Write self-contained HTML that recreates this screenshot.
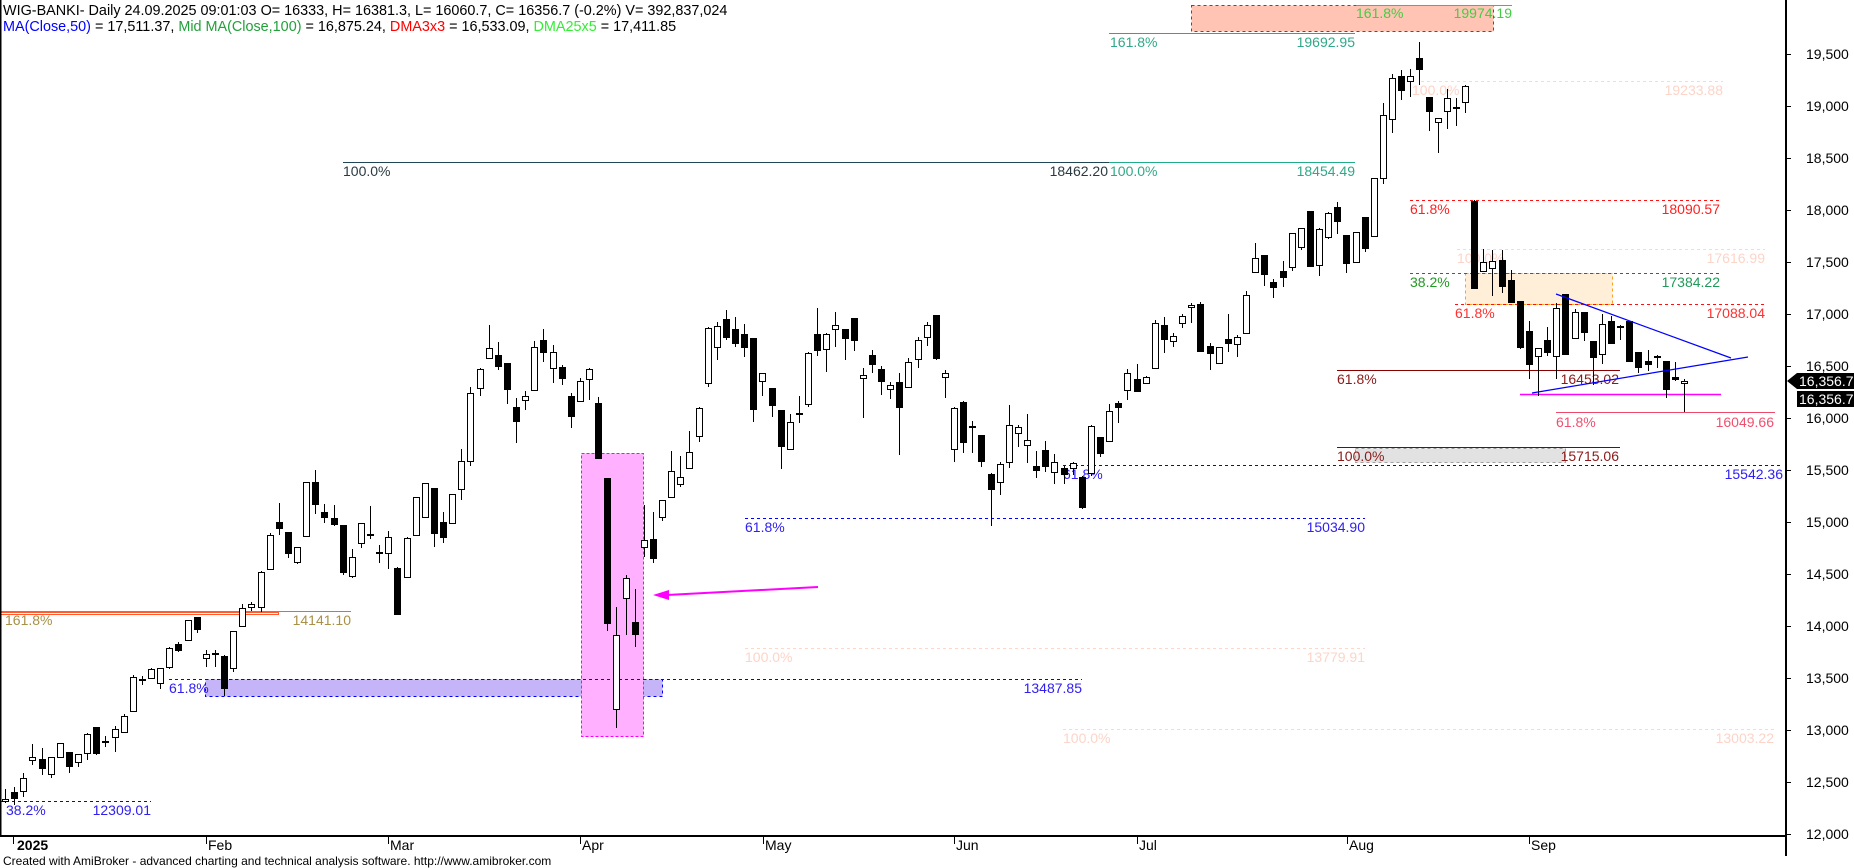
<!DOCTYPE html>
<html><head><meta charset="utf-8">
<style>html,body{margin:0;padding:0;background:#fff;width:1854px;height:868px;overflow:hidden}svg{display:block}</style>
</head><body>
<svg xmlns="http://www.w3.org/2000/svg" width="1854" height="868" viewBox="0 0 1854 868" font-family="'Liberation Sans', Arial, sans-serif" font-size="14">
<rect width="1854" height="868" fill="#fff"/>

<!-- fills -->
<rect x="205.5" y="679.5" width="457" height="17" fill="#c6b4f8" stroke="#0000ff" stroke-dasharray="3,3"/>
<rect x="581.5" y="453.5" width="62" height="283" fill="#ffb0ff" stroke="#ff00ff" stroke-dasharray="3,2"/>
<rect x="1191.5" y="5.5" width="302" height="26" fill="#ffc4b4" stroke="#ee1111" stroke-dasharray="3,3"/>
<rect x="1465.5" y="273.5" width="147" height="31" fill="#ffefd9" stroke="#ffa020" stroke-dasharray="3,3"/>
<rect x="1355.5" y="448.5" width="210" height="14" fill="#e2e2e2" stroke="#a0a0a0" stroke-dasharray="3,3"/>

<!-- fib lines -->
<g fill="none">
<path d="M0 611.5H351" stroke="#a08c40"/>
<rect x="0.5" y="612.5" width="278" height="2" stroke="#ff5a30"/>
<path d="M0 801.5H151M169 679.5H1082M745 518.5H1365M1063 465.5H1783" stroke="#0000ff" stroke-dasharray="3,3"/>
<path d="M745 648.5H1365M1063 729.5H1774M1421 81.5H1723M1457 249.5H1765" stroke="#ffd6c8" stroke-dasharray="3,3"/>
<path d="M343 162.5H1109" stroke="#1e4654"/>
<path d="M1109 162.5H1355M1109 33.5H1355" stroke="#1fae88"/>
<path d="M1356 5.5H1512" stroke="#33cc33"/>
<path d="M1410 200.5H1720M1455 304.5H1765" stroke="#ff1111" stroke-dasharray="3,3"/>
<path d="M1410 273.5H1720" stroke="#118811" stroke-dasharray="3,3"/>
<path d="M1337 370.5H1620M1337 447.5H1620" stroke="#880000"/>
<path d="M1520 394.5H1721" stroke="#ff00ff" stroke-width="1.5"/>
<path d="M1556 412.5H1775" stroke="#f04a6a"/>
</g>

<!-- fib texts -->
<g>
<text x="5" y="625" fill="#a89048">161.8%</text>
<text x="351" y="625" fill="#a89048" text-anchor="end">14141.10</text>
<text x="6" y="815" fill="#3020f0">38.2%</text>
<text x="151" y="815" fill="#3020f0" text-anchor="end">12309.01</text>
<text x="169" y="693" fill="#3020f0">61.8%</text>
<text x="1082" y="693" fill="#3020f0" text-anchor="end">13487.85</text>
<text x="745" y="532" fill="#3020f0">61.8%</text>
<text x="1365" y="532" fill="#3020f0" text-anchor="end">15034.90</text>
<text x="745" y="662" fill="#fdd4c8">100.0%</text>
<text x="1365" y="662" fill="#fdd4c8" text-anchor="end">13779.91</text>
<text x="1063" y="743" fill="#fdd4c8">100.0%</text>
<text x="1774" y="743" fill="#fdd4c8" text-anchor="end">13003.22</text>
<text x="343" y="176" fill="#2a3a40">100.0%</text>
<text x="1108" y="176" fill="#2a3a40" text-anchor="end">18462.20</text>
<text x="1110" y="176" fill="#30a888">100.0%</text>
<text x="1355" y="176" fill="#30a888" text-anchor="end">18454.49</text>
<text x="1110" y="47" fill="#30a888">161.8%</text>
<text x="1355" y="47" fill="#30a888" text-anchor="end">19692.95</text>
<text x="1356" y="18" fill="#44cc44">161.8%</text>
<text x="1512" y="18" fill="#44cc44" text-anchor="end">19974.19</text>
<text x="1412" y="95" fill="#fdd4c8">100.0%</text>
<text x="1723" y="95" fill="#fdd4c8" text-anchor="end">19233.88</text>
<text x="1410" y="214" fill="#ff2020">61.8%</text>
<text x="1720" y="214" fill="#ff2020" text-anchor="end">18090.57</text>
<text x="1457" y="263" fill="#fdd4c8">100.0%</text>
<text x="1765" y="263" fill="#fdd4c8" text-anchor="end">17616.99</text>
<text x="1410" y="287" fill="#229922">38.2%</text>
<text x="1720" y="287" fill="#22995a" text-anchor="end">17384.22</text>
<text x="1455" y="318" fill="#ff3030">61.8%</text>
<text x="1765" y="318" fill="#ff3030" text-anchor="end">17088.04</text>
<text x="1337" y="384" fill="#8a1a1a">61.8%</text>
<text x="1619" y="384" fill="#8a1a1a" text-anchor="end">16453.02</text>
<text x="1556" y="427" fill="#f05070">61.8%</text>
<text x="1774" y="427" fill="#f05070" text-anchor="end">16049.66</text>
<text x="1337" y="461" fill="#8a1a1a">100.0%</text>
<text x="1619" y="461" fill="#8a1a1a" text-anchor="end">15715.06</text>
<text x="1063" y="479" fill="#3020f0">61.8%</text>
<text x="1783" y="479" fill="#3020f0" text-anchor="end">15542.36</text>
</g>

<!-- magenta arrow -->
<path d="M818 587L667 595" stroke="#ff00ff" stroke-width="2" fill="none"/>
<polygon points="653,595 669,590 669,600" fill="#ff00ff"/>

<!-- candles: wicks -->
<path stroke="#000" stroke-width="1" fill="none" d="M5.5 789V803M14.5 787V805M23.5 773V797M32.5 744V765M42.5 748V775M51.5 757V778M60.5 743V757M69.5 752V773M78.5 754V767M87.5 733V760M96.5 727V755M105.5 736V747M115.5 726V752M124.5 714V732M133.5 675V711M142.5 676V685M151.5 668V678M160.5 668V689M169.5 647V669M178.5 642V652M188.5 620V640M197.5 617V633M206.5 650V667M215.5 650V667M224.5 655V696M233.5 631V672M242.5 604V626M251.5 602V611M261.5 571V612M270.5 533V569M279.5 503V535M288.5 532V558M297.5 547V564M306.5 482V537M315.5 470V514M324.5 504V523M334.5 505V526M343.5 525V575M352.5 549V578M361.5 523V548M370.5 506V539M379.5 545V563M388.5 531V569M397.5 567V614M407.5 537V577M416.5 497V535M425.5 483V517M434.5 488V547M443.5 512V543M452.5 494V523M461.5 449V500M470.5 387V466M480.5 368V396M489.5 325V358M498.5 342V370M507.5 363V404M516.5 398V443M525.5 391V410M534.5 341V390M543.5 329V362M553.5 345V383M562.5 365V385M571.5 393V428M580.5 378V401M589.5 368V400M598.5 397V458M607.5 478V631M616.5 607V728M626.5 575V635M635.5 589V647M644.5 505V557M653.5 512V563M662.5 500V521M671.5 451V497M680.5 456V487M689.5 431V468M699.5 407V442M708.5 327V387M717.5 322V360M726.5 310V340M735.5 317V347M744.5 324V357M753.5 338V422M762.5 373V396M772.5 388V417M781.5 410V469M790.5 414V449M799.5 396V423M808.5 352V407M817.5 308V356M826.5 333V372M835.5 312V347M845.5 329V360M854.5 318V351M863.5 368V418M872.5 350V373M881.5 366V395M890.5 382V399M899.5 373V455M908.5 358V387M918.5 337V368M927.5 322V346M936.5 315V360M945.5 370V398M954.5 407V462M963.5 401V453M972.5 421V453M981.5 435V467M991.5 473V526M1000.5 462V495M1009.5 405V468M1018.5 425V447M1027.5 414V463M1036.5 451V478M1045.5 441V472M1054.5 454V484M1064.5 466V484M1073.5 462V475M1082.5 476V509M1091.5 425V476M1100.5 437V457M1109.5 404V441M1118.5 401V423M1127.5 369V400M1137.5 364V391M1146.5 376V384M1155.5 320V368M1164.5 317V353M1173.5 333V347M1182.5 314V328M1191.5 303V323M1200.5 302V352M1210.5 343V370M1219.5 347V363M1228.5 314V352M1237.5 335V357M1246.5 291V334M1255.5 243V272M1264.5 255V286M1273.5 279V298M1283.5 261V287M1292.5 233V271M1301.5 228V250M1310.5 211V267M1319.5 228V276M1328.5 212V239M1337.5 202V234M1346.5 235V273M1356.5 232V262M1365.5 217V252M1374.5 178V236M1383.5 103V184M1392.5 74V133M1401.5 70V100M1410.5 69V97M1419.5 42V85M1429.5 97V131M1438.5 118V153M1447.5 89V129M1456.5 98V126M1465.5 85V113M1474.5 200V288M1483.5 249V272M1492.5 250V296M1502.5 250V293M1511.5 270V302M1520.5 301V349M1529.5 321V379M1538.5 348V396M1547.5 327V356M1556.5 303V379M1565.5 294V354M1575.5 309V338M1584.5 312V341M1593.5 341V385M1602.5 314V364M1611.5 316V344M1620.5 325V340M1629.5 321V361M1638.5 352V373M1648.5 350V371M1657.5 355V368M1666.5 361V398M1675.5 362V381M1684.5 379V412"/>

<!-- white bodies -->
<g fill="#fff" stroke="#000" stroke-width="1">
<rect x="2.5" y="799.5" width="6" height="2"/><rect x="20.5" y="778.5" width="6" height="13"/><rect x="29.5" y="757.5" width="6" height="3"/><rect x="48.5" y="757.5" width="6" height="17"/><rect x="57.5" y="743.5" width="6" height="14"/><rect x="75.5" y="754.5" width="6" height="8"/><rect x="84.5" y="734.5" width="6" height="19"/><rect x="112.5" y="729.5" width="6" height="8"/><rect x="121.5" y="716.5" width="6" height="16"/><rect x="130.5" y="677.5" width="6" height="34"/>
<rect x="148.5" y="669.5" width="6" height="9"/><rect x="157.5" y="668.5" width="6" height="15"/><rect x="166.5" y="648.5" width="6" height="19"/><rect x="185.5" y="620.5" width="6" height="20"/><rect x="203.5" y="654.5" width="6" height="4"/><rect x="230.5" y="631.5" width="6" height="37"/><rect x="239.5" y="608.5" width="6" height="18"/><rect x="248.5" y="604.5" width="6" height="3"/><rect x="258.5" y="572.5" width="6" height="35"/><rect x="267.5" y="535.5" width="6" height="34"/>
<rect x="294.5" y="547.5" width="6" height="15"/><rect x="303.5" y="482.5" width="6" height="54"/><rect x="349.5" y="557.5" width="6" height="19"/><rect x="358.5" y="523.5" width="6" height="20"/><rect x="385.5" y="537.5" width="6" height="16"/><rect x="404.5" y="538.5" width="6" height="39"/><rect x="413.5" y="497.5" width="6" height="38"/><rect x="422.5" y="483.5" width="6" height="34"/><rect x="449.5" y="494.5" width="6" height="29"/><rect x="458.5" y="461.5" width="6" height="28"/>
<rect x="467.5" y="393.5" width="6" height="68"/><rect x="477.5" y="369.5" width="6" height="19"/><rect x="486.5" y="348.5" width="6" height="10"/><rect x="522.5" y="396.5" width="6" height="4"/><rect x="531.5" y="347.5" width="6" height="43"/><rect x="550.5" y="352.5" width="6" height="16"/><rect x="577.5" y="381.5" width="6" height="20"/><rect x="586.5" y="369.5" width="6" height="10"/><rect x="613.5" y="635.5" width="6" height="74"/><rect x="623.5" y="578.5" width="6" height="20"/>
<rect x="641.5" y="540.5" width="6" height="7"/><rect x="659.5" y="500.5" width="6" height="17"/><rect x="668.5" y="471.5" width="6" height="26"/><rect x="677.5" y="477.5" width="6" height="7"/><rect x="686.5" y="452.5" width="6" height="16"/><rect x="696.5" y="408.5" width="6" height="28"/><rect x="705.5" y="328.5" width="6" height="55"/><rect x="714.5" y="326.5" width="6" height="21"/><rect x="759.5" y="373.5" width="6" height="8"/><rect x="787.5" y="422.5" width="6" height="27"/>
<rect x="805.5" y="353.5" width="6" height="51"/><rect x="823.5" y="334.5" width="6" height="15"/><rect x="832.5" y="325.5" width="6" height="4"/><rect x="860.5" y="375.5" width="6" height="3"/><rect x="887.5" y="385.5" width="6" height="4"/><rect x="905.5" y="362.5" width="6" height="25"/><rect x="915.5" y="340.5" width="6" height="19"/><rect x="924.5" y="325.5" width="6" height="12"/><rect x="942.5" y="373.5" width="6" height="4"/><rect x="951.5" y="408.5" width="6" height="41"/>
<rect x="997.5" y="464.5" width="6" height="18"/><rect x="1006.5" y="425.5" width="6" height="37"/><rect x="1015.5" y="427.5" width="6" height="6"/><rect x="1024.5" y="440.5" width="6" height="5"/><rect x="1051.5" y="462.5" width="6" height="10"/><rect x="1070.5" y="463.5" width="6" height="5"/><rect x="1088.5" y="426.5" width="6" height="47"/><rect x="1106.5" y="411.5" width="6" height="30"/><rect x="1124.5" y="373.5" width="6" height="17"/><rect x="1143.5" y="377.5" width="6" height="6"/>
<rect x="1152.5" y="323.5" width="6" height="45"/><rect x="1170.5" y="336.5" width="6" height="5"/><rect x="1179.5" y="316.5" width="6" height="7"/><rect x="1188.5" y="305.5" width="6" height="2"/><rect x="1216.5" y="347.5" width="6" height="16"/><rect x="1234.5" y="337.5" width="6" height="7"/><rect x="1243.5" y="295.5" width="6" height="38"/><rect x="1252.5" y="258.5" width="6" height="14"/><rect x="1289.5" y="233.5" width="6" height="34"/><rect x="1298.5" y="228.5" width="6" height="19"/>
<rect x="1316.5" y="229.5" width="6" height="36"/><rect x="1325.5" y="213.5" width="6" height="24"/><rect x="1353.5" y="232.5" width="6" height="30"/><rect x="1371.5" y="178.5" width="6" height="58"/><rect x="1380.5" y="115.5" width="6" height="63"/><rect x="1389.5" y="78.5" width="6" height="41"/><rect x="1407.5" y="76.5" width="6" height="5"/><rect x="1435.5" y="118.5" width="6" height="4"/><rect x="1444.5" y="98.5" width="6" height="13"/><rect x="1462.5" y="86.5" width="6" height="16"/>
<rect x="1480.5" y="262.5" width="6" height="9"/><rect x="1489.5" y="261.5" width="6" height="7"/><rect x="1535.5" y="348.5" width="6" height="8"/><rect x="1553.5" y="308.5" width="6" height="48"/><rect x="1572.5" y="312.5" width="6" height="26"/><rect x="1599.5" y="324.5" width="6" height="30"/><rect x="1681.5" y="381.5" width="6" height="2"/>
</g>

<!-- black bodies -->
<g fill="#000" stroke="#000" stroke-width="1">
<rect x="11.5" y="792.5" width="6" height="6"/><rect x="39.5" y="759.5" width="6" height="9"/><rect x="66.5" y="752.5" width="6" height="14"/><rect x="93.5" y="727.5" width="6" height="26"/><rect x="175.5" y="644.5" width="6" height="6"/><rect x="194.5" y="617.5" width="6" height="12"/><rect x="221.5" y="656.5" width="6" height="32"/><rect x="276.5" y="522.5" width="6" height="6"/><rect x="285.5" y="532.5" width="6" height="21"/><rect x="312.5" y="482.5" width="6" height="22"/>
<rect x="321.5" y="512.5" width="6" height="5"/><rect x="331.5" y="518.5" width="6" height="6"/><rect x="340.5" y="525.5" width="6" height="47"/><rect x="394.5" y="568.5" width="6" height="46"/><rect x="431.5" y="488.5" width="6" height="45"/><rect x="440.5" y="522.5" width="6" height="15"/><rect x="495.5" y="355.5" width="6" height="11"/><rect x="504.5" y="363.5" width="6" height="26"/><rect x="513.5" y="407.5" width="6" height="14"/><rect x="540.5" y="340.5" width="6" height="12"/>
<rect x="559.5" y="367.5" width="6" height="11"/><rect x="568.5" y="396.5" width="6" height="20"/><rect x="595.5" y="403.5" width="6" height="55"/><rect x="604.5" y="478.5" width="6" height="145"/><rect x="632.5" y="622.5" width="6" height="12"/><rect x="650.5" y="539.5" width="6" height="19"/><rect x="723.5" y="319.5" width="6" height="18"/><rect x="732.5" y="329.5" width="6" height="14"/><rect x="741.5" y="334.5" width="6" height="13"/><rect x="750.5" y="338.5" width="6" height="71"/>
<rect x="769.5" y="388.5" width="6" height="17"/><rect x="778.5" y="410.5" width="6" height="36"/><rect x="814.5" y="334.5" width="6" height="16"/><rect x="842.5" y="329.5" width="6" height="9"/><rect x="851.5" y="318.5" width="6" height="22"/><rect x="869.5" y="355.5" width="6" height="9"/><rect x="878.5" y="369.5" width="6" height="12"/><rect x="896.5" y="382.5" width="6" height="25"/><rect x="933.5" y="315.5" width="6" height="43"/><rect x="960.5" y="402.5" width="6" height="40"/>
<rect x="978.5" y="435.5" width="6" height="26"/><rect x="988.5" y="474.5" width="6" height="15"/><rect x="1033.5" y="466.5" width="6" height="4"/><rect x="1042.5" y="450.5" width="6" height="16"/><rect x="1061.5" y="468.5" width="6" height="6"/><rect x="1079.5" y="477.5" width="6" height="30"/><rect x="1097.5" y="437.5" width="6" height="16"/><rect x="1115.5" y="403.5" width="6" height="4"/><rect x="1134.5" y="379.5" width="6" height="12"/><rect x="1161.5" y="325.5" width="6" height="14"/>
<rect x="1197.5" y="304.5" width="6" height="47"/><rect x="1207.5" y="346.5" width="6" height="7"/><rect x="1225.5" y="339.5" width="6" height="4"/><rect x="1261.5" y="255.5" width="6" height="19"/><rect x="1270.5" y="282.5" width="6" height="5"/><rect x="1280.5" y="271.5" width="6" height="6"/><rect x="1307.5" y="211.5" width="6" height="55"/><rect x="1334.5" y="207.5" width="6" height="14"/><rect x="1343.5" y="235.5" width="6" height="28"/><rect x="1362.5" y="217.5" width="6" height="31"/>
<rect x="1398.5" y="76.5" width="6" height="14"/><rect x="1416.5" y="58.5" width="6" height="11"/><rect x="1426.5" y="97.5" width="6" height="14"/><rect x="1471.5" y="201.5" width="6" height="87"/><rect x="1499.5" y="260.5" width="6" height="26"/><rect x="1508.5" y="280.5" width="6" height="22"/><rect x="1517.5" y="301.5" width="6" height="46"/><rect x="1526.5" y="331.5" width="6" height="33"/><rect x="1544.5" y="340.5" width="6" height="12"/><rect x="1562.5" y="294.5" width="6" height="60"/>
<rect x="1581.5" y="312.5" width="6" height="20"/><rect x="1590.5" y="341.5" width="6" height="16"/><rect x="1608.5" y="321.5" width="6" height="22"/><rect x="1626.5" y="321.5" width="6" height="40"/><rect x="1635.5" y="352.5" width="6" height="15"/><rect x="1645.5" y="361.5" width="6" height="3"/><rect x="1663.5" y="361.5" width="6" height="28"/><rect x="1672.5" y="377.5" width="6" height="2"/>
</g>

<!-- doji crosses -->
<path stroke="#000" stroke-width="2" fill="none" d="M102 742h7M139 680h7M212 654h7M367 535h7M376 553h7M796 414h7M969 427h7M1453 108h7M1617 327h7M1654 357h7"/>

<!-- triangle lines -->
<path d="M1556 294L1731 358M1532 393L1748 357" stroke="#0000ff" stroke-width="1.2" fill="none"/>

<!-- axes -->
<path d="M0.75 0V836" stroke="#000" stroke-width="1.5"/>
<path d="M0 836H1787" stroke="#000" stroke-width="2"/>
<path d="M1786 0V856" stroke="#000" stroke-width="2"/>
<path stroke="#000" stroke-width="1" d="M1786 54.5h5M1786 106.5h5M1786 158.5h5M1786 210.5h5M1786 262.5h5M1786 314.5h5M1786 366.5h5M1786 418.5h5M1786 470.5h5M1786 522.5h5M1786 574.5h5M1786 626.5h5M1786 678.5h5M1786 730.5h5M1786 782.5h5M1786 834.5h5"/>
<g fill="#000">
<text x="1806" y="59">19,500</text>
<text x="1806" y="111">19,000</text>
<text x="1806" y="163">18,500</text>
<text x="1806" y="215">18,000</text>
<text x="1806" y="267">17,500</text>
<text x="1806" y="319">17,000</text>
<text x="1806" y="371">16,500</text>
<text x="1806" y="423">16,000</text>
<text x="1806" y="475">15,500</text>
<text x="1806" y="527">15,000</text>
<text x="1806" y="579">14,500</text>
<text x="1806" y="631">14,000</text>
<text x="1806" y="683">13,500</text>
<text x="1806" y="735">13,000</text>
<text x="1806" y="787">12,500</text>
<text x="1806" y="839">12,000</text>
</g>

<!-- x axis -->
<path stroke="#000" stroke-width="1" d="M13.5 837v7M206.5 837v7M388.5 837v7M580.5 837v7M763.5 837v7M954.5 837v7M1137.5 837v7M1347.5 837v7M1529.5 837v7"/>
<g fill="#000">
<text x="17" y="850" font-weight="bold">2025</text>
<text x="208" y="850">Feb</text>
<text x="390" y="850">Mar</text>
<text x="582" y="850">Apr</text>
<text x="765" y="850">May</text>
<text x="956" y="850">Jun</text>
<text x="1139" y="850">Jul</text>
<text x="1349" y="850">Aug</text>
<text x="1531" y="850">Sep</text>
</g>
<text x="3" y="865" font-size="12" fill="#000">Created with AmiBroker - advanced charting and technical analysis software. http://www.amibroker.com</text>

<!-- price boxes -->
<path d="M1787 381L1797 373H1854V389H1797Z" fill="#000"/>
<rect x="1797" y="391" width="57" height="16" fill="#000"/>
<text x="1799" y="386" fill="#fff">16,356.7</text>
<text x="1799" y="404" fill="#fff">16,356.7</text>

<!-- header -->
<text x="3" y="15" fill="#000" font-size="14.4">WIG-BANKI- Daily 24.09.2025 09:01:03 O= 16333, H= 16381.3, L= 16060.7, C= 16356.7 (-0.2%) V= 392,837,024</text>
<text x="3" y="31" fill="#000" font-size="14.4"><tspan fill="#0000ff">MA(Close,50)</tspan> = 17,511.37, <tspan fill="#22a03a">Mid MA(Close,100)</tspan> = 16,875.24, <tspan fill="#ff0000">DMA3x3</tspan> = 16,533.09, <tspan fill="#33ee33">DMA25x5</tspan> = 17,411.85</text>
</svg>
</body></html>
